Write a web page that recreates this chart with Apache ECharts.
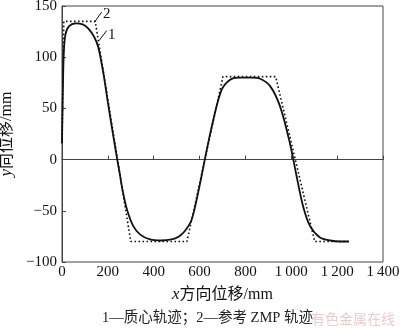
<!DOCTYPE html>
<html>
<head>
    <meta charset="utf-8">
    <title>质心轨迹与参考ZMP轨迹</title>
    <script src="https://cdn.jsdelivr.net/npm/echarts@6/dist/echarts.min.js"></script>
    <style>
        html, body { margin: 0; padding: 0; background: #fff; }
        #main { width: 400px; height: 329px; }
    </style>
</head>
<body>
    <div id="main"></div>
    <script type="text/javascript">
        // 1 — 质心轨迹 (x, y)
        var comX = [0, 4, 8, 15, 30, 60, 90, 115, 140, 158, 180, 200, 220, 241, 252, 265, 285, 311, 340, 384, 430, 478, 510, 535, 565, 594, 630, 660, 696, 733, 770, 830, 864, 907, 951, 994, 1023, 1052, 1082, 1125, 1170, 1212, 1250];
        var comY = [16, 70, 105, 122, 130, 133, 132, 128, 120, 110, 85, 56, 28, 0, -14, -31, -50, -65, -73, -78, -79, -78, -75, -70, -59, -32, 8, 39, 68, 78, 80, 80, 79, 72, 52, 16, -16, -46, -65, -76, -79, -80, -80];
        // 2 — 参考 ZMP 轨迹 (x, y)
        var zmpX = [0, 8, 145, 300, 545, 702, 932, 1102, 1255];
        var zmpY = [16, 135, 135, -80, -80, 81, 81, -80, -80];

        function pairs(xs, ys) {
            var out = [];
            for (var i = 0; i < xs.length; i++) out.push([xs[i], ys[i]]);
            return out;
        }

        var serif = "'Liberation Serif', 'DejaVu Serif', serif";
        var chart = echarts.init(document.getElementById('main'));

        chart.setOption({
            animation: false,
            backgroundColor: '#fff',
            grid: {
                left: 62, right: 17, top: 6, bottom: 67,
                outerBoundsMode: 'none',
                containLabel: false,
                show: true, borderColor: '#444', borderWidth: 1
            },
            xAxis: {
                type: 'value',
                min: 0, max: 1400, interval: 200,
                splitLine: { show: false },
                axisLine: { lineStyle: { color: '#444' } },
                axisTick: { inside: true, length: 4, lineStyle: { color: '#444' } },
                axisLabel: {
                    color: '#111', fontFamily: serif, fontSize: 15, margin: 3,
                    formatter: function (v) {
                        return v >= 1000 ? Math.floor(v / 1000) + '\u2009' + String(v % 1000).padStart(3, '0') : String(v);
                    }
                },
                name: '{i|x}方向位移/mm',
                nameLocation: 'middle',
                nameGap: 24,
                nameTextStyle: {
                    color: '#111', fontFamily: serif + ", 'Noto Sans CJK SC'", fontSize: 16,
                    rich: { i: { fontStyle: 'italic', fontFamily: serif, fontSize: 17, color: '#111' } }
                }
            },
            yAxis: {
                type: 'value',
                min: -100, max: 150, interval: 50,
                splitLine: { show: false },
                axisLine: { show: true, lineStyle: { color: '#444' } },
                axisTick: { show: true, inside: true, length: 4, lineStyle: { color: '#444' } },
                axisLabel: {
                    color: '#111', fontFamily: serif, fontSize: 15, margin: 5,
                    formatter: function (v) { return v < 0 ? '\u2212' + (-v) : String(v); }
                },
                name: '{i|y}向位移/mm',
                nameLocation: 'middle',
                nameRotate: 90,
                nameGap: 43,
                nameTextStyle: {
                    color: '#111', fontFamily: serif + ", 'Noto Sans CJK SC'", fontSize: 16,
                    rich: { i: { fontStyle: 'italic', fontFamily: serif, fontSize: 17, color: '#111' } }
                }
            },
            graphic: [
                {
                    type: 'text', left: 102, top: 311,
                    style: {
                        text: '1—质心轨迹；2—参考 ZMP 轨迹',
                        fill: '#222', font: "14.5px 'Liberation Serif', 'Noto Sans CJK SC'"
                    }
                },
                {
                    type: 'text', right: 5, top: 312,
                    style: {
                        text: '有色金属在线',
                        fill: 'rgba(230,150,150,0.5)', font: "14px 'Noto Sans CJK SC'"
                    }
                }
            ],
            series: [
                {
                    name: '参考ZMP轨迹',
                    type: 'line',
                    data: pairs(zmpX, zmpY),
                    symbol: 'none',
                    lineStyle: { color: '#111', width: 1.6, type: [1.6, 2.4] },
                    markLine: {
                        silent: true, symbol: 'none',
                        lineStyle: { color: '#111', width: 1, type: 'solid' },
                        label: { show: false },
                        data: [
                            [{ coord: [141, 134] }, { coord: [173, 144] }],
                            [{ coord: [161, 116] }, { coord: [195, 126] }]
                        ]
                    },
                    markPoint: {
                        silent: true, symbol: 'circle', symbolSize: 0,
                        label: {
                            show: true, position: 'inside', color: '#111',
                            fontFamily: serif, fontSize: 15
                        },
                        data: [
                            { coord: [195, 142], value: '2' },
                            { coord: [217, 122], value: '1' }
                        ]
                    }
                },
                {
                    name: '质心轨迹',
                    type: 'line',
                    data: pairs(comX, comY),
                    symbol: 'none',
                    smooth: 0.3,
                    lineStyle: { color: '#111', width: 1.8 }
                }
            ]
        });
    </script>
</body>
</html>
